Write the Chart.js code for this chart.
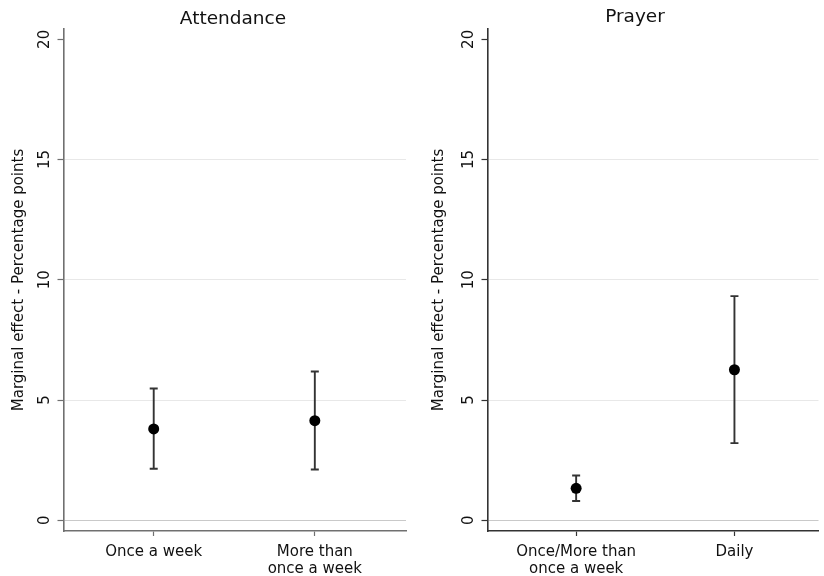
<!DOCTYPE html>
<html>
<head>
<meta charset="utf-8">
<script src="https://cdn.jsdelivr.net/npm/chart.js@4.4.1/dist/chart.umd.min.js"></script>
<style>
  html, body { margin: 0; padding: 0; background: #ffffff; }
  #wrap { position: relative; width: 824px; height: 576px; overflow: hidden; background: #fff; }
  canvas { position: absolute; top: 0; }
  .ptitle { position: absolute; width: 240px; text-align: center; font-family: "DejaVu Sans", sans-serif;
            font-size: 18.5px; line-height: 22px; color: #111; white-space: nowrap; }
</style>
</head>
<body>
<div id="wrap">
  <canvas id="c1" width="412" height="576" style="left:0px"></canvas>
  <canvas id="c2" width="412" height="576" style="left:412px"></canvas>
  <div class="ptitle" id="t1" style="left:113px; top:6.6px">Attendance</div>
  <div class="ptitle" id="t2" style="left:515px; top:4.5px">Prayer</div>
</div>
<script>
// ---- data ----
const attendanceCategories = ['Once a week', ['More than', 'once a week']];
const attendanceEstimate   = [3.80, 4.14];
const attendanceLower      = [2.14, 2.11];
const attendanceUpper      = [5.48, 6.19];

const prayerCategories = [['Once/More than', 'once a week'], 'Daily'];
const prayerEstimate   = [1.33, 6.26];
const prayerLower      = [0.80, 3.21];
const prayerUpper      = [1.86, 9.32];

const yTickValues = [0, 5, 10, 15, 20];
const yAxisTitle = 'Marginal effect - Percentage points';

// ---- error bar plugin (uses the chart's own scales) ----
const errorBars = {
  id: 'errorBars',
  beforeDatasetsDraw(chart, args, opts) {
    const { ctx, scales: { x, y } } = chart;
    const ds = chart.data.datasets[0];
    ctx.save();
    ctx.strokeStyle = opts.color || '#333';
    ctx.lineWidth = opts.width || 1.5;
    const cap = opts.cap || 4;
    ds.data.forEach(pt => {
      const px = x.getPixelForValue(pt.x);
      const pl = y.getPixelForValue(pt.lo);
      const ph = y.getPixelForValue(pt.hi);
      ctx.beginPath();
      ctx.moveTo(px, pl); ctx.lineTo(px, ph);
      ctx.moveTo(px - cap, pl); ctx.lineTo(px + cap, pl);
      ctx.moveTo(px - cap, ph); ctx.lineTo(px + cap, ph);
      ctx.stroke();
    });
    ctx.restore();
  }
};

const FONT = '"DejaVu Sans", sans-serif';

function makePanel(canvasId, cats, est, lo, hi, cfg) {
  const data = est.map((v, i) => ({ x: i + 1, y: v, lo: lo[i], hi: hi[i] }));
  return new Chart(document.getElementById(canvasId), {
    type: 'scatter',
    data: {
      datasets: [{
        data: data,
        pointRadius: 5.5,
        pointHoverRadius: 5.5,
        pointBackgroundColor: '#000',
        pointBorderWidth: 0,
        showLine: false
      }]
    },
    options: {
      responsive: false,
      animation: false,
      devicePixelRatio: 1,
      layout: { padding: { left: cfg.padL, right: cfg.padR, top: 29, bottom: -9 } },
      plugins: {
        legend: { display: false },
        tooltip: { enabled: false },
        title: { display: false },
        errorBars: { color: cfg.barColor, width: 1.9, cap: 4 }
      },
      scales: {
        x: {
          type: 'linear',
          min: 0.44,
          max: cfg.xMax,
          afterBuildTicks: (scale) => { scale.ticks = cats.map((c, i) => ({ value: i + 1 })); },
          ticks: {
            autoSkip: false,
            maxRotation: 0,
            minRotation: 0,
            padding: 8,
            color: '#111',
            font: { family: FONT, size: 15, lineHeight: 1.1 },
            callback: (value) => cats[Math.round(value) - 1]
          },
          grid: { drawOnChartArea: false, drawTicks: true, tickLength: 5, tickColor: cfg.axisColor, tickWidth: 1.2 },
          border: { display: true, color: cfg.axisColor, width: 1.6 }
        },
        y: {
          type: 'linear',
          min: -0.446,
          max: 20.43,
          afterBuildTicks: (scale) => { scale.ticks = yTickValues.map(v => ({ value: v })); },
          ticks: {
            includeBounds: false,
            minRotation: 90,
            maxRotation: 90,
            crossAlign: 'center',
            padding: 2.5,
            color: '#111',
            font: { family: FONT, size: 15, lineHeight: 1.2 }
          },
          title: {
            display: true,
            text: yAxisTitle,
            color: '#111',
            font: { family: FONT, size: 15, lineHeight: 1.2 },
            padding: { top: 4, bottom: cfg.titlePadB }
          },
          grid: {
            drawTicks: true,
            tickLength: 6,
            tickColor: cfg.axisColor,
            tickWidth: 1.2,
            lineWidth: 1,
            color: (ctx) => {
              const v = ctx.tick && ctx.tick.value;
              if (v === 0) return '#c9c9c9';
              if (v === 20) return 'rgba(0,0,0,0)';
              return '#e8e8e8';
            }
          },
          border: { display: true, color: cfg.axisColor, width: 1.6 }
        }
      }
    },
    plugins: [errorBars]
  });
}

makePanel('c1', attendanceCategories, attendanceEstimate, attendanceLower, attendanceUpper,
  { padL: 6, padR: 6, xMax: 2.566, titlePadB: 6.5, axisColor: '#707070', barColor: '#333' });
makePanel('c2', prayerCategories, prayerEstimate, prayerLower, prayerUpper,
  { padL: 14, padR: 0, xMax: 2.531, titlePadB: 10.5, axisColor: '#333', barColor: '#333' });
</script>
</body>
</html>
